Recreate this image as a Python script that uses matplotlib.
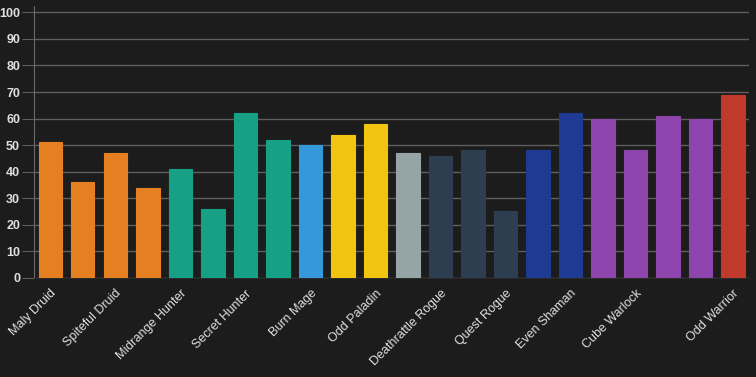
import matplotlib.pyplot as plt

# deck archetypes (only every other label shown on the axis, plus the last)
decks = ['Maly Druid', 'Token Druid', 'Spiteful Druid', 'Taunt Druid',
         'Midrange Hunter', 'Deathrattle Hunter', 'Secret Hunter', 'Spell Hunter',
         'Burn Mage', 'Even Paladin', 'Odd Paladin', 'Resurrect Priest',
         'Deathrattle Rogue', 'Odd Rogue', 'Quest Rogue', 'Shudderwock Shaman',
         'Even Shaman', 'Control Warlock', 'Cube Warlock', 'Even Warlock',
         'Zoo Warlock', 'Odd Warrior']
classes = ['Druid'] * 4 + ['Hunter'] * 4 + ['Mage'] + ['Paladin'] * 2 + ['Priest'] + \
          ['Rogue'] * 3 + ['Shaman'] * 2 + ['Warlock'] * 4 + ['Warrior']
values = [51, 36, 47, 34, 41, 26, 62, 52, 50, 54, 58, 47,
          46, 48, 25, 48, 62, 60, 48, 61, 60, 69]
shown_labels = [0, 2, 4, 6, 8, 10, 12, 14, 16, 18, 21]

class_colors = {
    'Druid': '#e67e22', 'Hunter': '#16a085', 'Mage': '#3498db',
    'Paladin': '#f1c40f', 'Priest': '#95a5a6', 'Rogue': '#2c3e50',
    'Shaman': '#1f3a93', 'Warlock': '#8e44ad', 'Warrior': '#c0392b',
}

bg = '#1c1c1c'
plt.rcParams['font.family'] = ['Liberation Sans', 'DejaVu Sans']

fig = plt.figure(figsize=(7.56, 3.77), dpi=100, facecolor=bg)
ax = fig.add_axes([0.045, 0.263, 0.946, 0.721], facecolor=bg)

x = list(range(len(decks)))
colors = [class_colors[c] for c in classes]
ax.bar(x, values, width=0.72, color=colors, edgecolor=colors, linewidth=0.8, zorder=3)

ax.set_xlim(-0.5, len(decks) - 0.5)
ax.set_ylim(0, 102.4)
ax.set_yticks(range(0, 101, 10))
ax.grid(axis='y', color='#5e5e5e', linewidth=1, zorder=0)

ax.set_xticks(shown_labels)
ax.set_xticklabels([decks[i] for i in shown_labels], rotation=45, ha='right',
                   rotation_mode='anchor', fontsize=9, color='#e0e0e0')
ax.tick_params(axis='x', length=0, pad=7)
ax.tick_params(axis='y', length=9, color='#5e5e5e', labelsize=9, labelcolor='#e0e0e0', pad=1)
for lbl in ax.get_yticklabels():
    lbl.set_fontweight('bold')

for side in ['top', 'right']:
    ax.spines[side].set_visible(False)
ax.spines['left'].set_color('#6a6a6a')
ax.spines['bottom'].set_color('#2a2a2a')

fig.savefig('out.png', dpi=100, facecolor=bg)
